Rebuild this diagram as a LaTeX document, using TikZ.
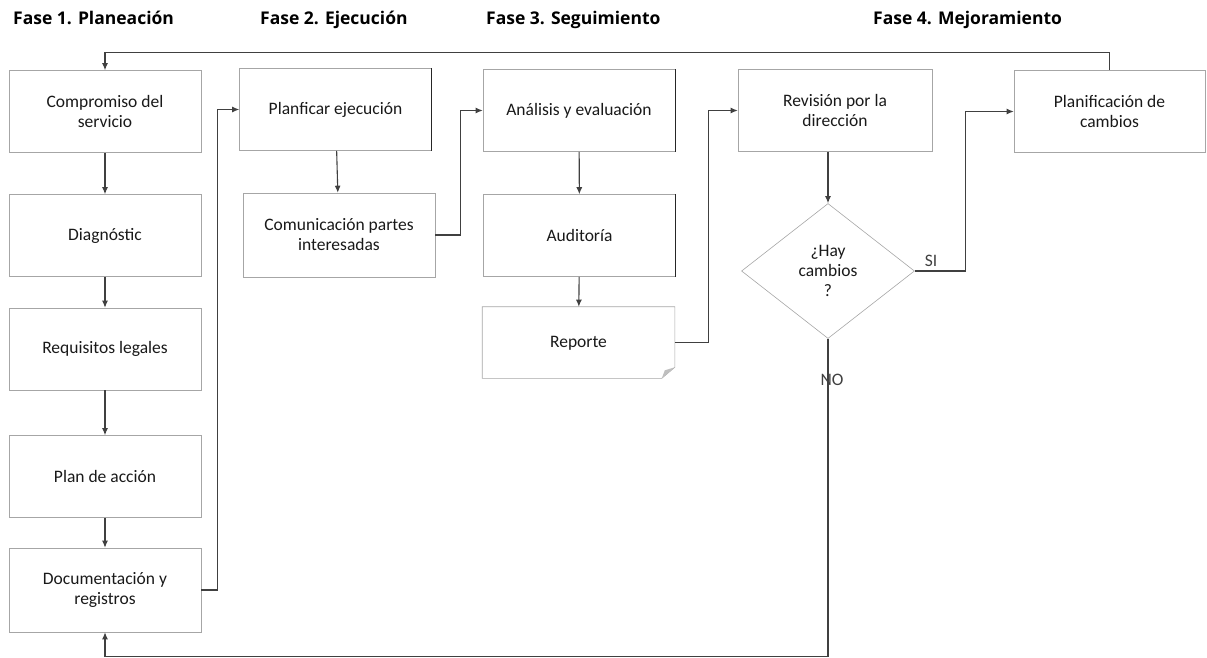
\documentclass[tikz,border=0pt]{standalone}
\usepackage{fontspec}
\setmainfont{Carlito}
\newfontfamily\fasefont{Open Sans}
\usetikzlibrary{arrows.meta,positioning,calc,shapes.geometric}
\definecolor{Linea}{HTML}{404040}
\definecolor{Borde}{HTML}{A6A6A6}

\begin{document}
\begin{tikzpicture}[x=1pt,y=-1pt,>={Latex[length=7pt,width=6pt]},
    paso/.style={draw=Borde,line width=0.6pt,minimum width=192,minimum height=82,align=center,font=\fontsize{17.5}{20}\selectfont,text=black!90},
    fase/.style={font=\fasefont\bfseries\fontsize{17.5}{20}\selectfont,anchor=base west,inner sep=0pt},
    flecha/.style={->,Linea,line width=1.1pt}]
  \useasboundingbox (0,0) rectangle (1207,658);
  \node[fase] (f1) at (13,25) {Fase 1. Planeación};
  \node[fase] (f2) at (260,25) {Fase 2. Ejecución};
  \node[fase] (f3) at (486,25) {Fase 3. Seguimiento};
  \node[fase] (f4) at (873,25) {Fase 4. Mejoramiento};
  \node[paso] (comp) at (105,111.5) {Compromiso del\\servicio};
  \node[paso] (diag) at (105,235.5) {Diagnóstic};
  \node[paso] (req) at (105,349) {Requisitos legales};
  \node[paso] (plan) at (105,476.5) {Plan de acción};
  \node[paso,minimum height=84] (doc) at (105,590) {Documentación y\\registros};
  \node[paso] (planej) at (335.5,109.5) {Planficar ejecución};
  \node[paso,minimum height=84] (comu) at (339,235) {Comunicación partes\\interesadas};
  \node[paso] (anal) at (579,110.5) {Análisis y evaluación};
  \node[paso] (audi) at (579.5,235.5) {Auditoría};
  \node[paso,draw=none,minimum height=71,text height=12pt,yshift=5] (rep) at (578.5,347.5) {Reporte};
  \node[paso,minimum width=194] (rev) at (835,110.5) {Revisión por la\\dirección};
  \node[paso,diamond,minimum width=173,minimum height=135,inner sep=0pt] (hay) at (828,271) {¿Hay\\cambios\\?};
  \node[paso,minimum width=191] (planc) at (1109.5,111.5) {Planificación de\\cambios};
  \draw[Borde,line width=0.6pt] (rep.north west) -- (rep.north east) -- ($(rep.south east)+(0,-11)$)
    -- ($(rep.south east)+(-13,0)$) -- (rep.south west) -- cycle;
  \fill[gray!50] ($(rep.south east)+(0,-11)$) -- ($(rep.south east)+(-13,0)$) -- ($(rep.south east)+(-10,-8)$) -- cycle;
  \foreach \n in {planej,anal,audi}\draw[black!85,line width=1.1pt] (\n.north east)--(\n.south east);
  \foreach \u/\v in {comp/diag,diag/req,req/plan,plan/doc,planej/comu,anal/audi,audi/rep}\draw[flecha] (\u)--(\v);
  \draw[flecha] (doc.east) -- ++(16,0) |- (planej.west);
  \draw[flecha] (comu.east) -- ++(25,0) |- (anal.west);
  \draw[flecha] (rep.east) -- ++(34,0) |- (rev.west);
  \draw[flecha] (hay.north |- rev.south) -- (hay.north);
  \draw[flecha] (hay.east) -- node[above,pos=0.32,font=\fontsize{17.5}{19}\selectfont] (si) {SI} ++(51,0) |- (planc.west);
  \draw[flecha] (hay.south) -- node[pos=0.13,xshift=4,font=\fontsize{17.5}{19}\selectfont] (no) {NO} ++(0,318) -| (doc.south);
  \draw[flecha] (planc.north) -- ++(0,-18) -| (comp.north);
\end{tikzpicture}
\end{document}
